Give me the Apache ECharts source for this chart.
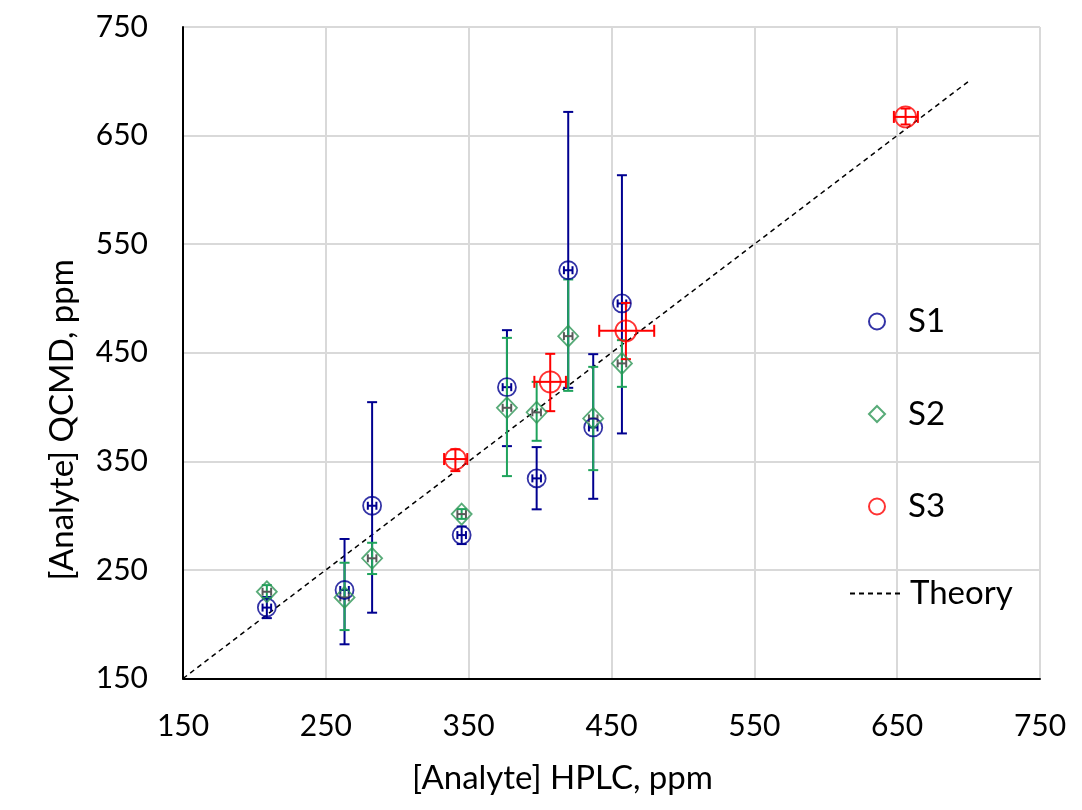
<!DOCTYPE html>
<html>
<head>
<meta charset="utf-8">
<script src="https://cdn.jsdelivr.net/npm/echarts@6/dist/echarts.min.js"></script>
<style>html,body{margin:0;padding:0;background:#fff}#c{width:1082px;height:810px}</style>
</head>
<body>
<div id="c"></div>
<script>
// ---- data ----
const xTicks = [150, 250, 350, 450, 550, 650, 750];
const yTicks = [150, 250, 350, 450, 550, 650, 750];

const hplcS1 = [208.7, 263.1, 282.4, 345.1, 376.8, 397.6, 419.7, 437.2, 457.3];
const qcmdS1 = [215.3, 231.5, 309.1, 282.1, 418.3, 334.3, 526.0, 381.2, 495.4];
const s1YLow = [205.6, 181.5, 210.6, 273.8, 364.0, 305.8, 417.7, 315.5, 375.7];
const s1YHigh = [225.0, 278.5, 404.5, 290.0, 470.8, 363.1, 671.8, 448.7, 613.5];
const s1XErr = [3, 3, 3, 3, 3, 3, 3, 3, 3];

const hplcS2 = [208.7, 263.1, 282.4, 345.1, 376.8, 397.6, 419.7, 437.2, 457.3];
const qcmdS2 = [229.9, 224.7, 260.7, 301.4, 399.3, 395.1, 465.3, 389.5, 440.2];
const s2YLow = [224.0, 194.6, 246.2, 297.0, 336.4, 368.9, 414.9, 341.9, 418.6];
const s2YHigh = [236.0, 256.6, 275.0, 306.0, 463.7, 423.2, 517.5, 437.0, 461.6];
const s2XErr = [3, 3, 3, 3, 3, 3, 3, 3, 3];

const hplcS3 = [340.7, 407.1, 460.1, 655.9];
const qcmdS3 = [352.1, 423.2, 470.2, 667.2];
const s3XLow = [332.8, 396.0, 441.4, 647.7];
const s3XHigh = [349.0, 418.1, 479.9, 664.5];
const s3YLow = [341.0, 396.2, 444.1, 660.2];
const s3YHigh = [361.0, 449.0, 495.9, 674.9];

const theoryX = [150, 700];
const theoryY = [150, 700];

// ---- styles ----
const NAVY = '#000090';
const GREEN = '#1FA35C';
const GREEN_MK = '#2E9656';
const GRAY = '#595959';
const RED = '#FF0000';
const FONT = 'Lato';

function buildErr(xs, ys, xlo, xhi, ylo, yhi) {
  return xs.map((x, i) => [x, ys[i], xlo[i], xhi[i], ylo[i], yhi[i]]);
}

function errRender(vColor, hColor, vCap, hCap, lw) {
  return function (params, api) {
    const x = api.value(0), y = api.value(1);
    const c = api.coord([x, y]);
    const yl = api.coord([x, api.value(4)]);
    const yh = api.coord([x, api.value(5)]);
    const xl = api.coord([api.value(2), y]);
    const xh = api.coord([api.value(3), y]);
    const vs = { stroke: vColor, lineWidth: lw };
    const hs = { stroke: hColor, lineWidth: lw };
    return {
      type: 'group',
      children: [
        { type: 'line', shape: { x1: c[0], y1: yl[1], x2: c[0], y2: yh[1] }, style: vs },
        { type: 'line', shape: { x1: c[0] - vCap, y1: yl[1], x2: c[0] + vCap, y2: yl[1] }, style: vs },
        { type: 'line', shape: { x1: c[0] - vCap, y1: yh[1], x2: c[0] + vCap, y2: yh[1] }, style: vs },
        { type: 'line', shape: { x1: xl[0], y1: c[1], x2: xh[0], y2: c[1] }, style: hs },
        { type: 'line', shape: { x1: xl[0], y1: c[1] - hCap, x2: xl[0], y2: c[1] + hCap }, style: hs },
        { type: 'line', shape: { x1: xh[0], y1: c[1] - hCap, x2: xh[0], y2: c[1] + hCap }, style: hs }
      ]
    };
  };
}

const s1Err = buildErr(hplcS1, qcmdS1,
  hplcS1.map((v, i) => v - s1XErr[i]), hplcS1.map((v, i) => v + s1XErr[i]), s1YLow, s1YHigh);
const s2Err = buildErr(hplcS2, qcmdS2,
  hplcS2.map((v, i) => v - s2XErr[i]), hplcS2.map((v, i) => v + s2XErr[i]), s2YLow, s2YHigh);
const s3Err = buildErr(hplcS3, qcmdS3, s3XLow, s3XHigh, s3YLow, s3YHigh);

const chart = echarts.init(document.getElementById('c'), null, { renderer: 'canvas' });

const axisCommon = {
  type: 'value',
  min: 150,
  max: 750,
  interval: 100,
  axisLine: { show: true, onZero: false, lineStyle: { color: '#000', width: 2 } },
  axisTick: { show: false },
  splitLine: { show: true, lineStyle: { color: '#D9D9D9', width: 2 } },
  axisLabel: { fontFamily: FONT, fontSize: 30, color: '#000' }
};

chart.setOption({
  animation: false,
  backgroundColor: '#fff',
  grid: { left: 183, right: 42, top: 27, bottom: 131.5, containLabel: false },
  xAxis: Object.assign({}, axisCommon, {
    name: '[Analyte] HPLC, ppm',
    nameLocation: 'middle',
    nameGap: 83,
    nameTextStyle: { fontFamily: FONT, fontSize: 33, color: '#000', padding: [0, 98, 0, 0] },
    axisLabel: Object.assign({}, axisCommon.axisLabel, { margin: 33,
      formatter: v => (xTicks.indexOf(v) >= 0 ? String(v) : '') })
  }),
  yAxis: Object.assign({}, axisCommon, {
    name: '[Analyte] QCMD, ppm',
    nameLocation: 'middle',
    nameGap: 104,
    nameTextStyle: { fontFamily: FONT, fontSize: 33, color: '#000', padding: [0, 134, 0, 0] },
    axisLabel: Object.assign({}, axisCommon.axisLabel, { margin: 35,
      formatter: v => (yTicks.indexOf(v) >= 0 ? String(v) : '') })
  }),
  legend: [
    {
      data: ['S1', 'S2', 'S3'],
      orient: 'vertical',
      left: 868,
      top: 305,
      padding: 0,
      itemWidth: 16,
      itemHeight: 16,
      itemGap: 59.5,
      textStyle: { fontFamily: FONT, fontSize: 33, color: '#000', lineHeight: 30, padding: [0, 0, 0, 18] }
    },
    {
      data: [{ name: 'Theory', itemStyle: { opacity: 0 } }],
      orient: 'vertical',
      left: 849,
      top: 577,
      padding: 0,
      itemWidth: 52,
      itemHeight: 14,
      textStyle: { fontFamily: FONT, fontSize: 33, color: '#000', lineHeight: 30, padding: [0, 0, 0, 3] }
    }
  ],
  series: [
    {
      name: 'Theory',
      type: 'line',
      data: theoryX.map((x, i) => [x, theoryY[i]]),
      symbol: 'none',
      lineStyle: { color: '#000', width: 1.5, type: [5, 4] },
      itemStyle: { color: '#000' },
      z: 1
    },
    {
      name: 'S1 error', type: 'custom', data: s1Err, z: 3,
      renderItem: errRender(NAVY, NAVY, 5, 4, 2),
      encode: { x: 0, y: 1 }
    },
    {
      name: 'S2 error', type: 'custom', data: s2Err, z: 3,
      renderItem: errRender(GREEN, GRAY, 5, 4, 2),
      encode: { x: 0, y: 1 }
    },
    {
      name: 'S3 error', type: 'custom', data: s3Err, z: 3,
      renderItem: errRender(RED, RED, 5, 6, 2),
      encode: { x: 0, y: 1 }
    },
    {
      name: 'S1', type: 'scatter', symbol: 'circle', symbolSize: 18, z: 4,
      data: hplcS1.map((x, i) => [x, qcmdS1[i]]),
      itemStyle: { color: 'rgba(255,255,255,0)', borderColor: NAVY, borderWidth: 1.8 }
    },
    {
      name: 'S2', type: 'scatter', symbol: 'diamond', symbolSize: [20, 21], z: 4,
      data: hplcS2.map((x, i) => [x, qcmdS2[i]]),
      itemStyle: { color: 'rgba(255,255,255,0)', borderColor: GREEN_MK, borderWidth: 1.8 }
    },
    {
      name: 'S3', type: 'scatter', symbol: 'circle', symbolSize: 21, z: 4,
      data: hplcS3.map((x, i) => [x, qcmdS3[i]]),
      itemStyle: { color: 'rgba(255,255,255,0)', borderColor: RED, borderWidth: 1.8 }
    }
  ]
});
</script>
</body>
</html>
